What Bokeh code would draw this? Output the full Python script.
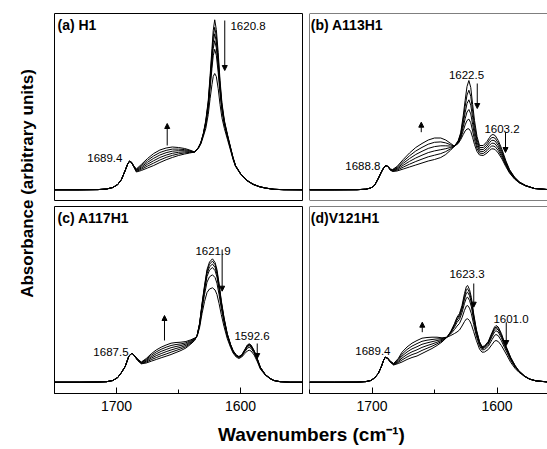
import math
from bokeh.plotting import figure
from bokeh.models import Range1d, Label, Arrow, NormalHead, FixedTicker, Span
from bokeh.layouts import row, column
from bokeh.embed import file_html
from bokeh.resources import INLINE

FONT = "Liberation Sans"

# ---------------- data (absorbance, arbitrary units) ----------------
a_wn = [1750, 1730, 1715, 1708, 1703, 1699, 1696, 1693, 1691, 1689.5,
        1688, 1686, 1684, 1680, 1675, 1670, 1665, 1660, 1655, 1650, 1645, 1641, 1637,
        1634, 1632, 1630, 1628, 1626, 1624.5, 1623, 1622, 1620.8, 1619.5, 1618, 1616.5, 1615, 1613,
        1610.5, 1608, 1606, 1604, 1600, 1597, 1594.5, 1590, 1585, 1580, 1573, 1565, 1550]
a_head = [10.7, 10.7, 10.9, 11.5, 13, 16, 21, 30, 36.5, 39.3]
a_s0 = a_head + [38, 33.5, 28.5, 30, 32.5, 35, 38, 40.7, 43, 45, 46.5, 47.5, 48.5,
                 53, 58, 67, 80, 100, 125, 152, 170, 180.7, 171, 148, 120, 98, 80, 66, 53, 43, 35, 27, 23, 20, 16.5, 14, 12.5, 11.2, 10.8, 10.7]
a_s1 = a_head + [38.1, 33.7, 29.1, 31.2, 34.4, 37.4, 40.5, 43.1, 45.1, 46.6, 47.6, 48.1, 48.5,
                 52.9, 57.8, 66.6, 78.9, 98, 121.8, 147, 163.6, 173.2, 164.4, 143, 116.6, 95.9, 78.9, 65.3, 52.6, 42.7, 34.9, 26.9, 22.9, 19.9, 16.4, 14, 12.5, 11.2, 10.8, 10.7]
a_s2 = a_head + [38.2, 33.9, 29.7, 32.4, 36.3, 39.8, 43, 45.4, 47.2, 48.2, 48.7, 48.7, 48.5,
                 52.7, 57.6, 66.2, 77.9, 96.4, 119, 142.6, 158, 166.7, 158.8, 138.6, 113.8, 94.1, 77.9, 64.7, 52.2, 42.5, 34.7, 26.9, 22.9, 19.9, 16.4, 13.9, 12.5, 11.2, 10.8, 10.7]
a_s3 = a_head + [38.3, 34.1, 30.3, 33.6, 38.2, 42.2, 45.5, 47.8, 49.3, 49.8, 49.8, 49.3, 48.5,
                 52.6, 57.4, 65.8, 76.9, 94.5, 116, 138, 152, 159.8, 152.7, 134, 110.6, 92.2, 76.9, 64, 51.8, 42.2, 34.6, 26.8, 22.8, 19.8, 16.3, 13.9, 12.5, 11.2, 10.8, 10.7]
a_s4 = a_head + [38.4, 34.3, 30.9, 34.8, 40.1, 44.6, 48, 50.1, 51.4, 51.4, 50.9, 49.9, 48.5,
                 52.5, 57.2, 65.4, 75.6, 92.3, 112.4, 132.2, 144.7, 151.2, 145.2, 128.2, 106.8, 89.8, 75.6, 63.3, 51.4, 41.9, 34.5, 26.7, 22.7, 19.7, 16.2, 13.9, 12.4, 11.2, 10.8, 10.7]
a_s5 = a_head + [38.5, 34.5, 31.5, 36, 42, 47, 50.5, 52.5, 53.5, 53, 52, 50.5, 48.5,
                 52, 56.5, 64, 72, 86, 102, 116, 124, 127, 124, 112, 96, 83, 72, 61, 50, 41, 34, 26.5, 22.5, 19.5, 16, 13.8, 12.4, 11.2, 10.8, 10.7]

b_wn = [1750, 1730, 1712, 1705, 1701, 1698, 1695, 1692.5, 1690.5, 1688.8,
        1687, 1685.5, 1683.5, 1680, 1675, 1670, 1665, 1660, 1655, 1650, 1645, 1641, 1637,
        1634, 1631, 1629, 1627, 1625.5, 1624, 1622.5, 1621, 1619.5, 1618, 1616, 1614, 1611, 1608,
        1606, 1604.5, 1603.2, 1601.5, 1599, 1596, 1593, 1590, 1586, 1582, 1577, 1570, 1560, 1550]
b_head = [10.7, 10.7, 10.8, 11.3, 12.5, 15, 22, 28.5, 33, 35]
b_s0 = b_head + [33.5, 30.5, 29, 29.5, 31.5, 33.5, 35.5, 37.5, 39.5, 41, 43, 46, 50.5,
                 54.3, 60, 68, 85, 100, 114, 120, 113, 96, 80, 64, 55, 55, 59, 63, 65.5, 66, 65, 60, 51, 40, 31, 23.5, 18.5, 15, 12, 11, 10.7]
b_s1 = b_head + [33.6, 30.7, 29.4, 30.4, 33.4, 36.3, 39, 41.4, 43.7, 45.3, 46.9, 48.9, 51.8,
                 54.3, 59.4, 66.6, 81.2, 93.9, 105.5, 110.3, 104.2, 89.4, 75.2, 61, 53.1, 53, 56.7, 60.4, 62.7, 63.1, 62.2, 57.5, 49.1, 38.8, 30.3, 23.1, 18.3, 14.9, 12, 11, 10.7]
b_s2 = b_head + [33.7, 30.9, 29.8, 31.3, 35.3, 39.1, 42.5, 45.3, 47.9, 49.6, 50.8, 51.8, 53.1,
                 54.3, 58.8, 65.2, 77.4, 87.8, 97, 100.7, 95.4, 82.8, 70.4, 58, 51.2, 51, 54.4, 57.8, 59.9, 60.3, 59.4, 55, 47.2, 37.6, 29.6, 22.7, 18.1, 14.8, 12, 11, 10.7]
b_s3 = b_head + [33.8, 31.1, 30.2, 32.2, 37.2, 41.9, 46, 49.2, 52.1, 53.9, 54.7, 54.7, 54.4,
                 54.3, 58.2, 63.8, 73.6, 81.7, 88.5, 91, 86.6, 76.2, 65.6, 55, 49.3, 49, 52.1, 55.2, 57.1, 57.4, 56.6, 52.5, 45.3, 36.4, 28.9, 22.3, 17.9, 14.7, 12, 11, 10.7]
b_s4 = b_head + [33.9, 31.3, 30.6, 33.1, 39.1, 44.7, 49.5, 53.1, 56.3, 58.2, 58.6, 57.6, 55.7,
                 54.3, 57.6, 62.4, 69.8, 75.6, 80, 81.4, 77.8, 69.6, 60.8, 52, 47.4, 47, 49.8, 52.6, 54.3, 54.6, 53.8, 50, 43.4, 35.2, 28.2, 21.9, 17.7, 14.6, 12, 11, 10.7]
b_s5 = b_head + [34, 31.5, 31, 34, 41, 47.5, 53, 57, 60.5, 62.5, 62.5, 60.5, 57,
                 54.3, 57, 61, 66, 69.5, 71.5, 71.7, 69, 63, 56, 49, 45.5, 45, 47.5, 50, 51.5, 51.7, 51, 47.5, 41.5, 34, 27.5, 21.5, 17.5, 14.5, 12, 11, 10.7]

c_wn = [1750, 1730, 1715, 1708, 1703, 1699, 1696, 1693, 1690, 1687.5,
        1685.5, 1683, 1680, 1676, 1672, 1668, 1664, 1660, 1656, 1652, 1648, 1644, 1640, 1637,
        1635, 1633, 1631, 1629, 1627, 1625, 1622.6, 1620.5, 1619, 1617.3, 1615.5, 1613.3, 1610.7, 1608,
        1606, 1603.5, 1601.3, 1599, 1596.5, 1594.5, 1593, 1591.5, 1589, 1586.5, 1584, 1580, 1576,
        1573, 1568, 1560, 1550]
c_head = [11.3, 11.3, 11.5, 11.8, 13, 16, 21, 27, 37.5, 40.3]
c_s0 = c_head + [37.5, 33, 29.7, 30.5, 32.3, 34, 35.7, 37.3, 39, 41, 43, 45.5, 49.5, 53,
                 58, 70, 90, 108, 124, 131.5, 134.7, 131, 124, 110, 93, 76, 60, 49, 43, 38.5, 37, 38.5, 44, 48.5, 49.7, 48.5, 43, 35, 26.3, 19, 15, 13, 11.8, 11.3, 11.3]
c_s1 = c_head + [37.6, 33.3, 30.1, 31.4, 33.8, 35.9, 37.8, 39.5, 41.3, 43, 44.7, 46.8, 50.3, 53.5,
                 57.9, 69.7, 89.2, 106.7, 122.2, 129.3, 132.4, 128.8, 122, 108.4, 91.9, 75.3, 59.6, 48.8, 42.8, 38.3, 36.8, 38.3, 43.7, 48, 49.2, 48, 42.6, 34.8, 26.2, 18.9, 15, 13, 11.8, 11.3, 11.3]
c_s2 = c_head + [37.7, 33.6, 30.4, 32.3, 35.3, 37.8, 39.9, 41.8, 43.5, 45, 46.3, 48.1, 51.2, 54,
                 57.8, 69.3, 88.2, 105.1, 119.9, 126.6, 129.5, 126, 119.5, 106.4, 90.5, 74.4, 59.1, 48.5, 42.6, 38.1, 36.6, 38.1, 43.3, 47.4, 48.5, 47.4, 42.2, 34.5, 26, 18.9, 14.9, 13, 11.8, 11.3, 11.3]
c_s3 = c_head + [37.8, 33.9, 30.8, 33.2, 36.7, 39.7, 42.1, 44, 45.8, 47, 48, 49.4, 52, 54.5,
                 57.7, 68.8, 87, 103.2, 117.1, 123.4, 126, 122.8, 116.5, 104, 88.8, 73.3, 58.5, 48.1, 42.3, 37.9, 36.4, 37.9, 42.8, 46.7, 47.8, 46.7, 41.7, 34.1, 25.8, 18.8, 14.9, 13, 11.8, 11.3, 11.3]
c_s4 = c_head + [37.9, 34.2, 31.1, 34.1, 38.2, 41.6, 44.2, 46.3, 48, 49, 49.6, 50.7, 52.9, 55,
                 57.5, 67.8, 84.5, 99.2, 111.4, 116.7, 118.7, 115.9, 110.3, 99, 85.3, 71, 57.3, 47.4, 41.6, 37.4, 35.9, 37.4, 41.8, 45.2, 46.2, 45.2, 40.5, 33.4, 25.3, 18.6, 14.8, 13, 11.8, 11.3, 11.3]
c_s5 = c_head + [38, 34.5, 31.5, 35, 39.7, 43.5, 46.3, 48.5, 50.3, 51, 51.3, 52, 53.7, 55.5,
                 57, 66, 80, 92, 101, 104.5, 105.7, 103.5, 99, 90, 79, 67, 55, 46, 40.5, 36.5, 35, 36.5, 40, 42.5, 43.3, 42.5, 38.5, 32, 24.5, 18.3, 14.7, 12.9, 11.8, 11.3, 11.3]

d_wn = [1750, 1730, 1712, 1705, 1701, 1698, 1695, 1692.5, 1690.8, 1689.4,
        1687.5, 1685.5, 1682.7, 1679, 1676, 1672, 1668, 1664, 1660, 1656, 1652, 1648, 1644, 1640,
        1637, 1634, 1632, 1630, 1628, 1626, 1624.5, 1623.5, 1622, 1620.5, 1618.7, 1616.5, 1614, 1612,
        1610, 1607, 1604, 1602, 1600.8, 1599, 1596.5, 1594, 1592, 1589, 1585.5, 1582.7, 1578,
        1574, 1569, 1560, 1550]
d_head = [11.3, 11.3, 11.4, 11.9, 13, 15.5, 20, 27, 33, 36.3]
d_s0 = d_head + [35, 31.5, 28.5, 30, 31.5, 34, 36, 37.5, 40, 42.5, 45, 48, 51.5, 56.3,
                 62, 70, 76.3, 80, 88, 100, 107, 108, 104, 96, 80, 64, 52, 47, 47.5, 52, 61, 66.5, 68, 66.5, 60, 51, 45, 36, 28, 23, 17.5, 14.5, 12.7, 11.6, 11.3]
d_s1 = d_head + [35.1, 31.7, 28.8, 31, 33.5, 36.5, 38.9, 40.6, 43.1, 45.2, 47.3, 49.7, 52.3, 56.3,
                 61.6, 69, 74.8, 78.4, 86, 97.2, 103.8, 104.7, 100.9, 93.3, 78.2, 62.9, 51.3, 46.4, 46.9, 51.2, 59.8, 65.1, 66.5, 65.1, 58.8, 50.2, 44.3, 35.5, 27.7, 22.9, 17.5, 14.5, 12.7, 11.6, 11.3]
d_s2 = d_head + [35.2, 31.9, 29.1, 32, 35.4, 39, 41.7, 43.7, 46.1, 47.9, 49.5, 51.3, 53.2, 56.3,
                 61.2, 68, 73.3, 76.7, 83.9, 94.4, 100.5, 101.3, 97.8, 90.6, 76.4, 61.8, 50.5, 45.9, 46.3, 50.4, 58.6, 63.7, 65, 63.6, 57.6, 49.3, 43.6, 35, 27.4, 22.7, 17.4, 14.5, 12.7, 11.6, 11.3]
d_s3 = d_head + [35.3, 32.1, 29.4, 33, 37.4, 41.5, 44.6, 46.8, 49.2, 50.6, 51.8, 53, 54, 56.3,
                 60.6, 66.5, 71.1, 74.2, 80.8, 90.2, 95.6, 96.3, 93.2, 86.6, 73.7, 60.2, 49.4, 45, 45.4, 49.2, 56.8, 61.5, 62.8, 61.4, 55.8, 48, 42.6, 34.3, 27, 22.5, 17.3, 14.4, 12.7, 11.6, 11.3]
d_s4 = d_head + [35.4, 32.3, 29.7, 34, 39.3, 44, 47.4, 49.9, 52.2, 53.3, 54, 54.6, 54.9, 56.3,
                 59.6, 64, 67.4, 70.1, 75.7, 83.2, 87.5, 88, 85.4, 79.8, 69.2, 57.4, 47.5, 43.6, 43.9, 47.2, 53.8, 58, 59, 57.8, 52.8, 45.9, 40.8, 33, 26.2, 22.1, 17.2, 14.4, 12.7, 11.6, 11.3]
d_s5 = d_head + [35.5, 32.5, 30, 35, 41.3, 46.5, 50.3, 53, 55.3, 56, 56.3, 56.3, 55.7, 56.3,
                 58, 60, 61.5, 63.5, 67.5, 72, 74.5, 74.7, 73, 69, 62, 53, 44.5, 41.3, 41.5, 44, 49, 52.3, 53, 52, 48, 42.5, 38, 31, 25, 21.5, 17, 14.3, 12.7, 11.6, 11.3]

titles = ["(a) H1", "(b) A113H1", "(c) A117H1", "(d)V121H1"]
tick_values = [1700, 1600]
minor_tick_values = [1750, 1650, 1550]

# peak annotations: (text, x, y, align)
a_notes = [("1689.4", 1695.2, 43, "right"), ("1620.8", 1608.1, 175, "left")]
b_notes = [("1688.8", 1693.2, 34.3, "right"), ("1622.5", 1624.4, 126, "center"), ("1603.2", 1596, 72, "center")]
c_notes = [("1687.5", 1690.3, 41.3, "right"), ("1621.9", 1622.2, 143, "center"), ("1592.6", 1590.7, 58, "center")]
d_notes = [("1689.4", 1685.2, 43, "right"), ("1623.3", 1624, 120, "center"), ("1601.0", 1588.8, 74.7, "center")]
# arrows: (x, y_start, y_end)
a_arrows = [(1612.7, 180, 130), (1659.1, 55, 77)]
b_arrows = [(1615.8, 117, 92), (1593.2, 68, 48), (1660.6, 68.3, 78.3)]
c_arrows = [(1614.8, 144, 102.3), (1586.5, 50, 35), (1661.3, 53, 78)]
d_arrows = [(1618.6, 110, 86.3), (1592.6, 71.3, 48), (1659.8, 61.3, 71.3)]

Y_TOP = 187


def panel(wn, spectra, title, notes, arrows, left_col, bottom_row):
    if left_col:
        width, x_end, bl, br = 257, 1550, 6, 3
    else:
        width, x_end, bl, br = 242, 1559.6, 4, 0
    if bottom_row:
        height, bt, bb = 214, 3, 24
    else:
        height, bt, bb = 203, 13, 3
    p = figure(width=width, height=height, x_range=Range1d(1750, x_end), y_range=Range1d(0, Y_TOP),
               output_backend="svg", toolbar_location=None,
               min_border_left=bl, min_border_right=br, min_border_top=bt, min_border_bottom=bb)
    p.grid.visible = False
    p.yaxis.visible = False
    p.background_fill_color = "white"
    p.border_fill_color = "white"
    if left_col:
        p.outline_line_color = "black"
        p.outline_line_width = 1
    else:
        p.outline_line_color = None
        p.add_layout(Span(location=1750, dimension="height", line_color="black", line_width=1))
        p.add_layout(Span(location=Y_TOP, dimension="width", line_color="black", line_width=1))
        if not bottom_row:
            p.add_layout(Span(location=0, dimension="width", line_color="black", line_width=1))
    if bottom_row:
        ax = p.xaxis[0]
        ax.ticker = FixedTicker(ticks=tick_values, minor_ticks=minor_tick_values)
        ax.major_tick_in = 6
        ax.major_tick_out = 0
        ax.minor_tick_in = 4
        ax.minor_tick_out = 0
        ax.axis_line_color = "black"
        ax.major_tick_line_color = "black"
        ax.minor_tick_line_color = "black"
        ax.major_label_text_font = FONT
        ax.major_label_text_font_size = "14px"
        ax.major_label_text_color = "black"
        ax.major_label_standoff = 7
    else:
        p.xaxis.visible = False
    for s in spectra:
        p.line(wn, s, line_color="black", line_width=1)
    x0 = 1747.6 if left_col else 1749.0
    p.add_layout(Label(x=x0, y=176, text=title, text_font=FONT, text_font_size="14px",
                       text_font_style="bold", text_color="black",
                       text_align="left", text_baseline="middle"))
    for t, x, y, al in notes:
        p.add_layout(Label(x=x, y=y, text=t, text_font=FONT, text_font_size="11.5px",
                           text_color="black", text_align=al, text_baseline="middle"))
    for x, y0, y1 in arrows:
        p.add_layout(Arrow(end=NormalHead(size=5, fill_color="black", line_color="black", line_width=1),
                           x_start=x, y_start=y0, x_end=x, y_end=y1, line_color="black", line_width=1))
    return p


pa = panel(a_wn, [a_s0, a_s1, a_s2, a_s3, a_s4, a_s5], titles[0], a_notes, a_arrows, True, False)
pb = panel(b_wn, [b_s0, b_s1, b_s2, b_s3, b_s4, b_s5], titles[1], b_notes, b_arrows, False, False)
pc = panel(c_wn, [c_s0, c_s1, c_s2, c_s3, c_s4, c_s5], titles[2], c_notes, c_arrows, True, True)
pd = panel(d_wn, [d_s0, d_s1, d_s2, d_s3, d_s4, d_s5], titles[3], d_notes, d_arrows, False, True)


def text_fig(w, h):
    f = figure(width=w, height=h, x_range=Range1d(0, w), y_range=Range1d(0, h),
               output_backend="svg", toolbar_location=None, min_border=0)
    f.axis.visible = False
    f.grid.visible = False
    f.outline_line_color = None
    return f


ylab = text_fig(48, 417)
ylab.add_layout(Label(x=27, y=234, text="Absorbance (arbitrary units)", angle=math.pi / 2,
                      text_font=FONT, text_font_size="17px", text_font_style="bold",
                      text_color="black", text_align="center", text_baseline="middle"))
xlab = text_fig(547, 31)
xlab.add_layout(Label(x=311, y=14, text="Wavenumbers (cm\u207b\u00b9)",
                      text_font=FONT, text_font_size="19px", text_font_style="bold",
                      text_color="black", text_align="center", text_baseline="middle"))

p = column(row(ylab, column(row(pa, pb), row(pc, pd))), xlab)

open("out.html", "w").write(file_html(p, INLINE))
